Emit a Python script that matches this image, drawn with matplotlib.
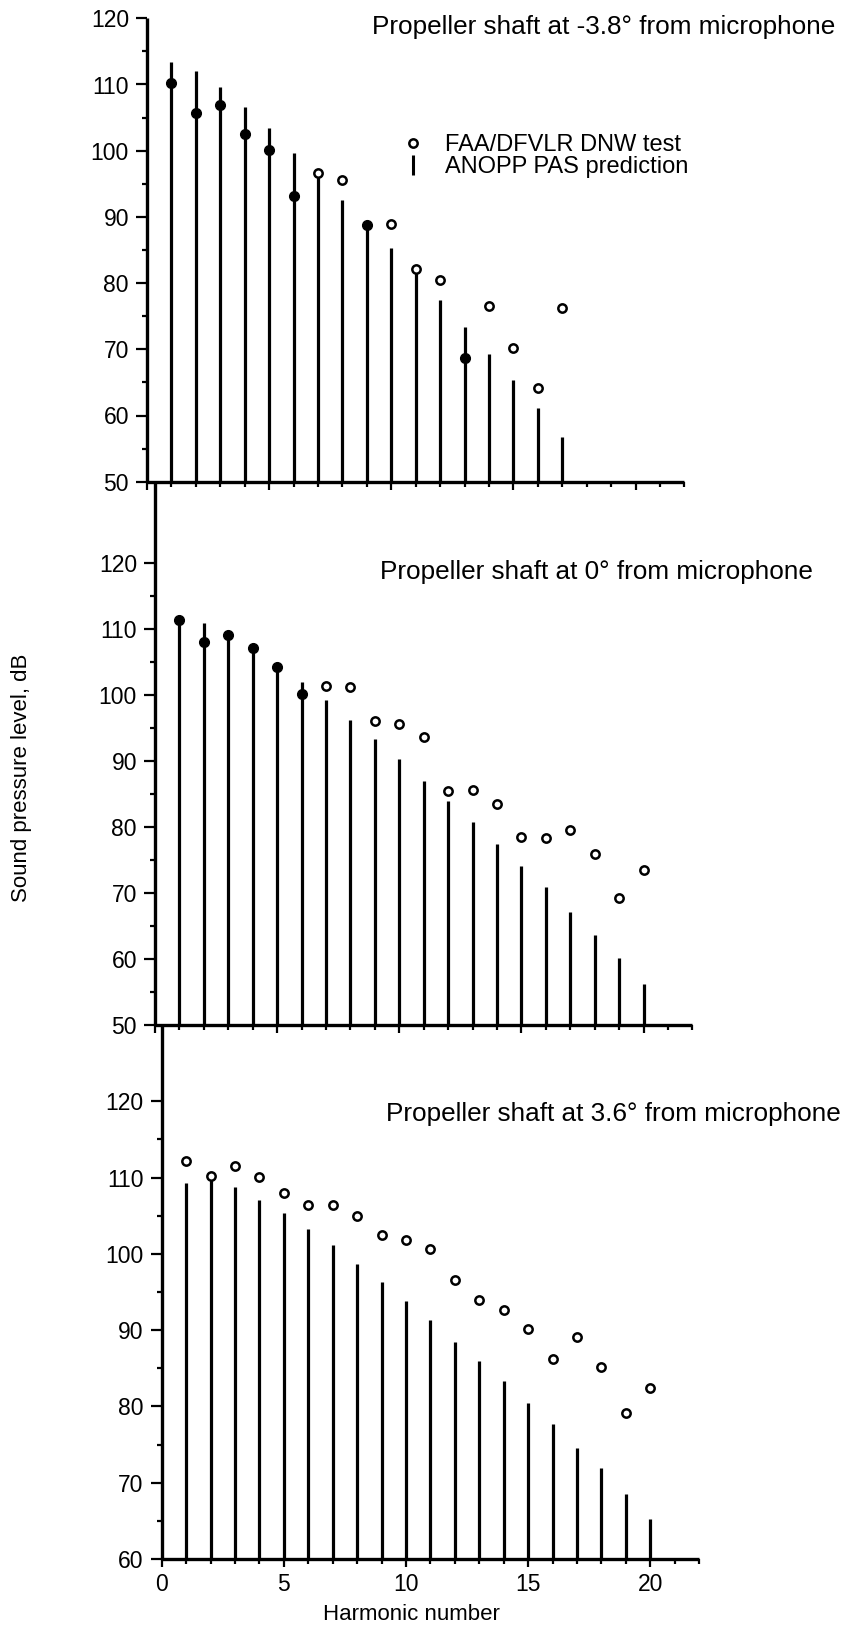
import matplotlib
matplotlib.use("Agg")
import matplotlib.pyplot as plt
from matplotlib.lines import Line2D
from matplotlib.ticker import FixedLocator

plt.rcParams['font.family'] = ['Liberation Sans', 'DejaVu Sans']

# ---------------- data ----------------
titles = ["Propeller shaft at -3.8\u00b0 from microphone",
          "Propeller shaft at 0\u00b0 from microphone",
          "Propeller shaft at 3.6\u00b0 from microphone"]

harm_a = list(range(1, 18))
pred_a = [113.4, 112.1, 109.6, 106.6, 103.4, 99.7, 96.2, 92.6, 89.0, 85.3,
          81.6, 77.4, 73.4, 69.3, 65.4, 61.1, 56.8]
meas_a = [110.2, 105.7, 106.9, 102.5, 100.1, 93.1, 96.7, 95.6, 88.8, 88.9,
          82.1, 80.4, 68.7, 76.5, 70.2, 64.2, 76.2]

harm_b = list(range(1, 21))
pred_b = [111.6, 111.0, 109.5, 107.3, 104.5, 102.0, 99.3, 96.2, 93.3, 90.4,
          87.0, 84.0, 80.8, 77.4, 74.1, 70.9, 67.2, 63.6, 60.1, 56.2]
meas_b = [111.4, 108.1, 109.2, 107.1, 104.3, 100.2, 101.4, 101.3, 96.1, 95.6,
          93.7, 85.5, 85.6, 83.5, 78.5, 78.3, 79.6, 75.9, 69.2, 73.5]

harm_c = list(range(1, 21))
pred_c = [109.3, 110.0, 108.7, 107.1, 105.3, 103.2, 101.1, 98.7, 96.3, 93.8,
          91.3, 88.5, 86.0, 83.3, 80.5, 77.7, 74.6, 71.9, 68.5, 65.3]
meas_c = [112.2, 110.2, 111.5, 110.1, 108.0, 106.4, 106.4, 104.9, 102.5, 101.8,
          100.6, 96.6, 94.0, 92.6, 90.2, 86.2, 89.1, 85.1, 79.2, 82.4]

y_bottoms = [50, 50, 60]
y_label_tops = [120, 120, 120]
x_major = [0, 5, 10, 15, 20]
legend_labels = ["FAA/DFVLR DNW test", "ANOPP PAS prediction"]

# ---------------- layout (pixels) ----------------
W, H = 854, 1628
fig = plt.figure(figsize=(W / 100, H / 100), dpi=100)

def rect(l, t, r, b):
    return [l / W, 1 - b / H, (r - l) / W, (b - t) / H]

px_per_h = 24.43
# (left x of harmonic 0, top px, bottom px, y-top value)
panels = [
    (147.0, 18.3, 481.7, 120.0),
    (155.0, 481.7, 1025.0, 132.37),
    (161.7, 1025.0, 1559.0, 129.99),
]
datasets = [(harm_a, pred_a, meas_a), (harm_b, pred_b, meas_b), (harm_c, pred_c, meas_c)]
title_y = [117.7, 117.6, 117.4]

axes = []
for i, ((x0, top, bot, ytop), (hh, pp, mm)) in enumerate(zip(panels, datasets)):
    ax = fig.add_axes(rect(x0, top, x0 + 22 * px_per_h, bot))
    axes.append(ax)
    yb = y_bottoms[i]
    ax.set_xlim(0, 22)
    ax.set_ylim(yb, ytop)
    for s in ['top', 'right']:
        ax.spines[s].set_visible(False)
    for s in ['left', 'bottom']:
        ax.spines[s].set_linewidth(2.4)
        ax.spines[s].set_capstyle('butt')
    ax.patch.set_alpha(0)

    # stems (prediction)
    ax.vlines(hh, yb, pp, colors='black', linewidth=2.3, zorder=2)
    # measurements: filled where the stem passes through the point
    on_stem = [(h, m) for h, p, m in zip(hh, pp, mm) if p >= m]
    off_stem = [(h, m) for h, p, m in zip(hh, pp, mm) if p < m]
    if on_stem:
        ax.plot([a for a, b in on_stem], [b for a, b in on_stem], ls='none',
                marker='o', ms=7.0, mfc='black', mec='black', zorder=3, clip_on=False)
    if off_stem:
        ax.plot([a for a, b in off_stem], [b for a, b in off_stem], ls='none',
                marker='o', ms=6.0, mfc='white', mec='black', mew=1.8, zorder=3,
                clip_on=False)

    # ticks
    ax.yaxis.set_major_locator(FixedLocator(list(range(yb, y_label_tops[i] + 1, 10))))
    ax.yaxis.set_minor_locator(FixedLocator(list(range(yb + 5, y_label_tops[i], 10))))
    ax.xaxis.set_major_locator(FixedLocator(x_major))
    ax.xaxis.set_minor_locator(FixedLocator([v for v in range(1, 23) if v not in x_major]))
    ax.tick_params(axis='y', which='major', direction='out', length=8, width=1.6,
                   pad=5, labelsize=16.5)
    ax.tick_params(axis='y', which='minor', direction='out', length=3.8, width=1.6)
    ax.tick_params(axis='x', which='major', direction='out', length=5.8, width=1.6,
                   pad=4, labelsize=16.5)
    ax.tick_params(axis='x', which='minor', direction='out', length=3.8, width=1.6)
    if i < 2:
        ax.tick_params(axis='x', labelbottom=False)

    ax.text(9.2, title_y[i], titles[i], ha='left', va='baseline', fontsize=18.8)

# legend in the first panel
handles = [Line2D([], [], ls='none', marker='o', ms=6.0, mfc='white', mec='black', mew=1.8),
           Line2D([], [], ls='none', marker='|', ms=14, mew=2.2, color='black')]
fig.legend(handles, legend_labels, loc='upper left',
           bbox_to_anchor=(406 / W, 1 - 134 / H), bbox_transform=fig.transFigure,
           frameon=False, fontsize=17, handlelength=0.6, handletextpad=1.05,
           labelspacing=0.0, borderpad=0, borderaxespad=0)

# axis labels
fig.text(22 / W, 1 - 778 / H, "Sound pressure level, dB", rotation=90,
         ha='center', va='center', fontsize=16)
fig.text(411 / W, 1 - 1614 / H, "Harmonic number", ha='center', va='center', fontsize=16)

fig.savefig("out.png", dpi=100, facecolor='white')
